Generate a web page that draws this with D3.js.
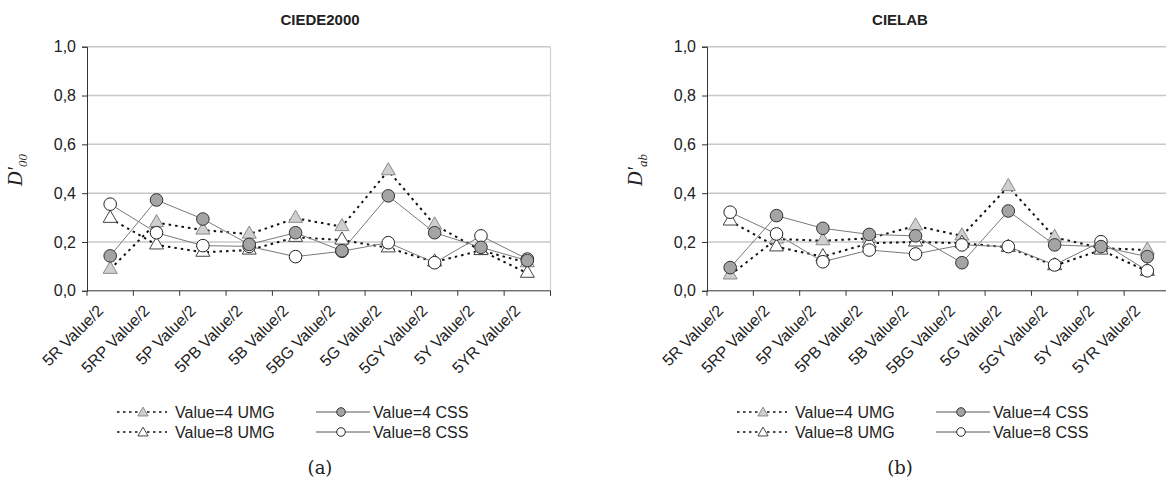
<!DOCTYPE html>
<html>
<head>
<meta charset="utf-8">
<script src="https://cdn.jsdelivr.net/npm/d3@7"></script>
<style>
  html, body { margin: 0; padding: 0; background: #fff; }
  svg { display: block; }
  text { font-family: "Liberation Sans", Arial, sans-serif; fill: #222; }
</style>
</head>
<body>
<svg id="chart" width="1166" height="487"></svg>
<script>
// Munsell hue categories along the x axis
const categories = ["5R Value/2", "5RP Value/2", "5P Value/2", "5PB Value/2", "5B Value/2",
                    "5BG Value/2", "5G Value/2", "5GY Value/2", "5Y Value/2", "5YR Value/2"];
const yTicks = [0, 0.2, 0.4, 0.6, 0.8, 1.0];

// CIEDE2000 panel
const de00Umg4 = [0.088, 0.279, 0.249, 0.232, 0.297, 0.263, 0.492, 0.270, 0.165, 0.115];
const de00Umg8 = [0.297, 0.188, 0.158, 0.167, 0.219, 0.208, 0.176, 0.118, 0.165, 0.072];
const de00Css4 = [0.143, 0.372, 0.294, 0.190, 0.238, 0.164, 0.389, 0.238, 0.178, 0.124];
const de00Css8 = [0.355, 0.238, 0.185, 0.182, 0.140, 0.162, 0.197, 0.115, 0.225, 0.130];

// CIELAB panel
const labUmg4 = [0.065, 0.212, 0.205, 0.215, 0.266, 0.225, 0.427, 0.219, 0.175, 0.167];
const labUmg8 = [0.286, 0.180, 0.140, 0.195, 0.200, 0.195, 0.178, 0.103, 0.167, 0.080];
const labCss4 = [0.095, 0.308, 0.256, 0.231, 0.225, 0.115, 0.327, 0.188, 0.181, 0.140];
const labCss8 = [0.322, 0.233, 0.119, 0.167, 0.151, 0.188, 0.181, 0.106, 0.201, 0.082];

const styles = {
  "Value=4 UMG": { line: "#111", width: 2, dash: "2.5,4", marker: "tri", fill: "#cfcfcf", stroke: "#8a8a8a" },
  "Value=8 UMG": { line: "#111", width: 2, dash: "2.5,4", marker: "tri", fill: "#ffffff", stroke: "#444" },
  "Value=4 CSS": { line: "#7a7a7a", width: 1, dash: null, marker: "circ", fill: "#a4a4a4", stroke: "#333" },
  "Value=8 CSS": { line: "#7a7a7a", width: 1, dash: null, marker: "circ", fill: "#ffffff", stroke: "#222" }
};

const svg = d3.select("#chart");
svg.append("rect").attr("width", 1166).attr("height", 487).attr("fill", "#fff");

const triSym = d3.symbol().type(d3.symbolTriangle);

function drawPanel(opts) {
  const g = svg.append("g");
  const x = d3.scaleBand().domain(categories).range([opts.left, opts.left + 463.5]);
  const y = d3.scaleLinear().domain([0, 1]).range([290.8, 46.7]);
  const cx = i => x(categories[i]) + x.bandwidth() / 2;

  // gridlines
  g.append("g").selectAll("line").data(yTicks.filter(d => d > 0)).join("line")
    .attr("x1", opts.left).attr("x2", opts.left + 463.5)
    .attr("y1", d => y(d)).attr("y2", d => y(d))
    .attr("stroke", "#c8c8c8").attr("stroke-width", 1.5);
  // plot-area right border
  g.append("line").attr("x1", opts.left + 463.5).attr("x2", opts.left + 463.5)
    .attr("y1", y(1)).attr("y2", y(0)).attr("stroke", "#d0d0d0").attr("stroke-width", 1.2);

  // y axis
  const yAxis = g.append("g").attr("transform", `translate(${opts.left},0)`)
    .call(d3.axisLeft(y).tickValues(yTicks).tickSize(5).tickPadding(6)
      .tickFormat(d => d3.format(".1f")(d).replace(".", ",")));
  yAxis.select(".domain").attr("stroke", "#333");
  yAxis.selectAll(".tick line").attr("stroke", "#333");
  yAxis.selectAll("text").attr("font-size", 16).style("font-family", "Liberation Sans, Arial, sans-serif").attr("fill", "#222");

  // x axis: ticks sit on the category boundaries
  const xAxis = g.append("g").attr("transform", `translate(0,${y(0)})`);
  xAxis.append("line").attr("x1", opts.left).attr("x2", opts.left + 463.5)
    .attr("stroke", "#333");
  const bounds = categories.map(c => x(c)).concat([x(categories[categories.length - 1]) + x.bandwidth()]);
  xAxis.selectAll("line.tk").data(bounds).join("line").attr("class", "tk")
    .attr("x1", d => d).attr("x2", d => d).attr("y1", 0).attr("y2", 5).attr("stroke", "#333");
  xAxis.selectAll("text").data(categories).join("text")
    .attr("transform", d => `translate(${x(d) + x.bandwidth() / 2 - 6},21) rotate(-45)`)
    .attr("text-anchor", "end").attr("font-size", 16).text(d => d);

  // y axis title
  const yt = g.append("text")
    .attr("transform", `translate(${opts.left - 65},170) rotate(-90)`)
    .attr("text-anchor", "middle")
    .style("font-family", "Liberation Serif, Times New Roman, serif")
    .style("font-style", "italic").attr("font-size", 20).attr("fill", "#333");
  yt.append("tspan").text("D\u2032");
  yt.append("tspan").attr("font-size", 13).attr("dy", 5).text(opts.sub);

  // chart title
  g.append("text").attr("x", opts.titleX).attr("y", 25).attr("text-anchor", "middle")
    .attr("font-size", 15).attr("font-weight", "bold").attr("fill", "#111").text(opts.title);

  // series lines first, then markers on top (draw order = opts.series)
  const line = d3.line().x((d, i) => cx(i)).y(d => y(d));
  opts.series.forEach(s => {
    const st = styles[s.name];
    g.append("path").datum(s.values).attr("d", line).attr("fill", "none")
      .attr("stroke", st.line).attr("stroke-width", st.width)
      .attr("stroke-dasharray", st.dash);
  });
  opts.series.forEach(s => {
    const st = styles[s.name];
    const mk = g.append("g");
    if (st.marker === "tri") {
      mk.selectAll("path").data(s.values).join("path")
        .attr("d", triSym.size(85))
        .attr("transform", (d, i) => `translate(${cx(i)},${y(d)})`)
        .attr("fill", st.fill).attr("stroke", st.stroke).attr("stroke-width", 1);
    } else {
      mk.selectAll("circle").data(s.values).join("circle")
        .attr("cx", (d, i) => cx(i)).attr("cy", d => y(d))
        .attr("r", 6.3).attr("fill", st.fill).attr("stroke", st.stroke).attr("stroke-width", 1);
    }
  });

  // legend
  const lg = g.append("g").attr("transform", `translate(${opts.left + 30},0)`);
  const rows = [
    { name: "Value=4 UMG", col: 0, row: 0 },
    { name: "Value=8 UMG", col: 0, row: 1 },
    { name: "Value=4 CSS", col: 1, row: 0 },
    { name: "Value=8 CSS", col: 1, row: 1 }
  ];
  rows.forEach(r => {
    const st = styles[r.name];
    const x0 = r.col === 0 ? 0 : 199;
    const len = r.col === 0 ? 50 : 54;
    const ly = 412 + r.row * 20;
    lg.append("line").attr("x1", x0).attr("x2", x0 + len).attr("y1", ly).attr("y2", ly)
      .attr("stroke", r.col === 0 ? "#111" : "#555").attr("stroke-width", r.col === 0 ? 1.6 : 1)
      .attr("stroke-dasharray", r.col === 0 ? "2.5,3.5" : null);
    if (st.marker === "tri") {
      lg.append("path").attr("d", triSym.size(45))
        .attr("transform", `translate(${x0 + 26},${ly + 1})`)
        .attr("fill", st.fill).attr("stroke", st.stroke);
    } else {
      lg.append("circle").attr("cx", x0 + 25).attr("cy", ly).attr("r", 4.3)
        .attr("fill", st.fill).attr("stroke", st.stroke);
    }
    lg.append("text").attr("x", x0 + len + (r.col === 0 ? 8 : 3)).attr("y", ly + 6)
      .attr("font-size", 16).text(r.name);
  });

  // sub-caption
  g.append("text").attr("x", opts.titleX).attr("y", 474).attr("text-anchor", "middle")
    .style("font-family", "DejaVu Serif, Liberation Serif, serif").attr("font-size", 18)
    .attr("fill", "#222").text(opts.caption);
}

drawPanel({
  left: 87, title: "CIEDE2000", titleX: 320, sub: "00", caption: "(a)",
  series: [
    { name: "Value=4 UMG", values: de00Umg4 },
    { name: "Value=8 UMG", values: de00Umg8 },
    { name: "Value=8 CSS", values: de00Css8 },
    { name: "Value=4 CSS", values: de00Css4 }
  ]
});

drawPanel({
  left: 707, title: "CIELAB", titleX: 900, sub: "ab", caption: "(b)",
  series: [
    { name: "Value=4 UMG", values: labUmg4 },
    { name: "Value=8 UMG", values: labUmg8 },
    { name: "Value=8 CSS", values: labCss8 },
    { name: "Value=4 CSS", values: labCss4 }
  ]
});
</script>
</body>
</html>
